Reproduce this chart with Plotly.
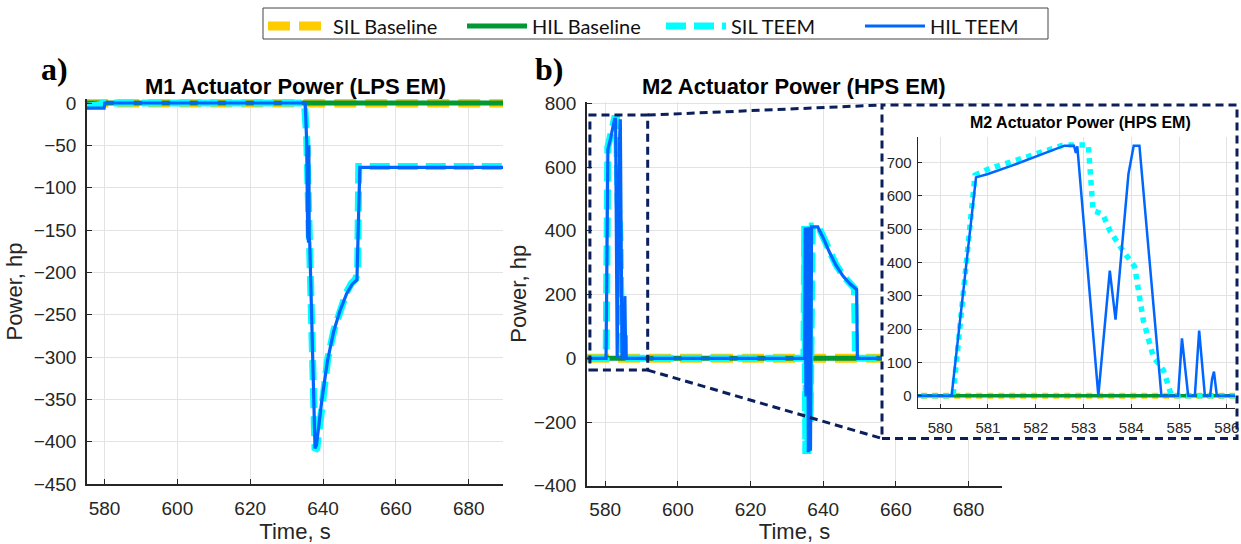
import plotly.graph_objects as go

W, H = 1241, 544

# ---------------- data ----------------
# Panel a) M1 Actuator Power (LPS EM)
t_a_sil_base = [575.0, 689.5]
p_a_sil_base = [0, 0]
t_a_hil_base = [575.0, 689.5]
p_a_hil_base = [0, 0]
t_a_sil_teem = [575.0, 576.5, 578.5, 579.5, 634.9, 635.5, 636.1, 636.4, 637.8, 638.3, 639.7,
                641.3, 643.0, 644.6, 646.4, 647.8, 648.9, 649.5, 649.8, 689.5]
p_a_sil_teem = [-4, -4, -2, 0, 0, -40, -160, -175, -410, -408, -352,
                -302, -268, -244, -224, -213, -208, -200, -75, -75]
t_a_hil_teem = [575.0, 579.9, 580.1, 635.1, 635.5, 635.8, 635.9, 636.0, 636.1, 636.2, 636.35,
                637.8, 638.2, 639.7, 641.2, 642.9, 644.6, 646.5, 648.0, 649.3, 650.1, 689.5]
p_a_hil_teem = [-6, -6, 0, 0, -45, -160, -60, -165, -50, -160, -165,
                -408, -404, -350, -305, -270, -246, -225, -214, -209, -76, -76]

# Panel b) M2 Actuator Power (HPS EM)
t_b_sil_base = [575.0, 689.5]
p_b_sil_base = [0, 0]
t_b_hil_base = [575.0, 689.5]
p_b_hil_base = [0, 0]
t_b_sil_teem = [575.0, 580.27, 580.73, 581.04, 581.5, 582.0, 582.58, 583.1, 583.2, 583.4,
                583.55, 583.8, 584.07, 584.25, 584.46, 584.67, 584.75, 584.84,
                634.7, 634.9, 635.2, 635.5, 635.8, 636.1, 636.4, 636.7, 637.0, 638.6,
                640.0, 641.8, 643.5, 645.5, 647.3, 648.6, 648.9, 689.5]
p_b_sil_teem = [0, 0, 662, 682, 702, 725, 752, 752, 555, 545,
                495, 440, 387, 227, 117, 77, 40, 0,
                0, 415, -300, 415, -300, 415, -200, 415, 415, 415,
                380, 333, 294, 259, 234, 220, 0, 0]
t_b_hil_teem = [575.0, 580.24, 580.75, 581.0, 581.5, 582.0, 582.3, 582.6, 582.8, 582.84, 582.87,
                583.31, 583.55, 583.67, 583.94, 583.97, 584.0, 584.05, 584.17, 584.63,
                584.98, 585.06, 585.19, 585.33, 585.42, 585.54, 585.65, 585.69, 585.73, 585.79,
                634.9, 635.05, 635.25, 635.4, 635.6, 635.75, 635.9, 636.05, 636.2, 636.35,
                636.5, 636.65, 636.8, 638.5, 640.0, 641.8, 643.5, 645.5, 647.5, 649.2, 649.4, 689.5]
p_b_hil_teem = [0, 0, 655, 665, 690, 718, 735, 750, 750, 728, 748,
                0, 375, 228, 665, 688, 700, 750, 750, 0,
                0, 172, 0, 0, 195, 0, 0, 50, 72, 0,
                0, 410, -120, 410, 0, 410, -295, 412, 20, 412,
                -290, 412, 412, 412, 378, 331, 292, 257, 232, 216, 0, 0]

x_ticks = [580, 600, 620, 640, 660, 680]
y_ticks_a = [0, -50, -100, -150, -200, -250, -300, -350, -400, -450]
y_ticks_b = [800, 600, 400, 200, 0, -200, -400]
x_ticks_inset = [580, 581, 582, 583, 584, 585, 586]
y_ticks_inset = [0, 100, 200, 300, 400, 500, 600, 700]

zoom_t = [575.8, 591.7]   # zoomed region shown in the inset
zoom_p = [-37, 763]

series_names = ['SIL Baseline', 'HIL Baseline', 'SIL TEEM', 'HIL TEEM']

# ---------------- layout geometry ----------------
def px(x):
    return x / W

def py(y):
    return 1 - y / H

XA_DOM = [px(87), px(503)];     YA_DOM = [py(484), py(99)]
XA_RNG = [575.2, 689.4];        YA_RNG = [-450, 4.72]
XB_DOM = [px(587), px(1002)];   YB_DOM = [py(485.8), py(101.7)]
XB_RNG = [575.0, 689.2];        YB_RNG = [-400, 805]
XC_DOM = [px(882), px(1238)];   YC_DOM = [py(438.5), py(105)]
XI_DOM = [px(917.7), px(1235)]; YI_DOM = [py(408), py(136.7)]
XI_RNG = [579.53, 586.17];      YI_RNG = [-37, 777]

C_SIL_BASE = '#FFCC00'
C_HIL_BASE = '#009933'
C_SIL_TEEM = '#00FFFF'
C_HIL_TEEM = '#0066FF'
NAVY = '#0A1F5C'
AX = '#262626'
GRID = '#E3E3E3'
FONT = 'Liberation Sans, Arial, sans-serif'

fig = go.Figure()

main_styles = [
    dict(color=C_SIL_BASE, width=9, dash='22px,9px'),
    dict(color=C_HIL_BASE, width=5),
    dict(color=C_SIL_TEEM, width=7, dash='20px,8px'),
    dict(color=C_HIL_TEEM, width=3.2),
]
inset_styles = [
    dict(color=C_SIL_BASE, width=6, dash='6px,5px'),
    dict(color=C_HIL_BASE, width=3.5),
    dict(color=C_SIL_TEEM, width=5.5, dash='dot'),
    dict(color=C_HIL_TEEM, width=2.5),
]

a_data = [(t_a_sil_base, p_a_sil_base), (t_a_hil_base, p_a_hil_base),
          (t_a_sil_teem, p_a_sil_teem), (t_a_hil_teem, p_a_hil_teem)]
b_data = [(t_b_sil_base, p_b_sil_base), (t_b_hil_base, p_b_hil_base),
          (t_b_sil_teem, p_b_sil_teem), (t_b_hil_teem, p_b_hil_teem)]

for name, (t, p), st in zip(series_names, a_data, main_styles):
    fig.add_trace(go.Scatter(x=t, y=p, mode='lines', name=name, line=st,
                             xaxis='x', yaxis='y', showlegend=True, hoverinfo='skip'))
for name, (t, p), st in zip(series_names, b_data, main_styles):
    fig.add_trace(go.Scatter(x=t, y=p, mode='lines', name=name, line=st,
                             xaxis='x2', yaxis='y2', showlegend=False, hoverinfo='skip'))
# cover subplot (white background for the inset frame)
fig.add_trace(go.Scatter(x=[None], y=[None], mode='lines', xaxis='x3', yaxis='y3',
                         showlegend=False, hoverinfo='skip'))
for name, (t, p), st in zip(series_names, b_data, inset_styles):
    fig.add_trace(go.Scatter(x=t, y=p, mode='lines', name=name, line=st,
                             xaxis='x4', yaxis='y4', showlegend=False, hoverinfo='skip'))

def axis_style(size=19, ticklen=5, lw=1.5):
    return dict(showline=True, linecolor=AX, linewidth=lw, ticks='inside', ticklen=ticklen,
                tickcolor=AX, tickwidth=1, showgrid=True, gridcolor=GRID, gridwidth=1,
                zeroline=False, tickfont=dict(family=FONT, size=size, color=AX),
                automargin=False, fixedrange=True)

title_font = dict(family=FONT, size=22, color=AX)

fig.update_layout(
    width=W, height=H, margin=dict(l=0, r=0, t=0, b=0),
    paper_bgcolor='white', plot_bgcolor='white',
    xaxis=dict(domain=XA_DOM, range=XA_RNG, anchor='y', tickvals=x_ticks,
               title=dict(text='Time, s', font=title_font, standoff=8),
               ticklabelstandoff=6, **axis_style()),
    yaxis=dict(domain=YA_DOM, range=YA_RNG, anchor='x', tickvals=y_ticks_a,
               title=dict(text='Power, hp', font=title_font, standoff=5),
               ticklabelstandoff=5, **axis_style()),
    xaxis2=dict(domain=XB_DOM, range=XB_RNG, anchor='y2', tickvals=x_ticks,
                title=dict(text='Time, s', font=title_font, standoff=8),
                ticklabelstandoff=6, **axis_style()),
    yaxis2=dict(domain=YB_DOM, range=YB_RNG, anchor='x2', tickvals=y_ticks_b,
                title=dict(text='Power, hp', font=title_font, standoff=1),
                ticklabelstandoff=5, **axis_style()),
    xaxis3=dict(domain=XC_DOM, range=[0, 1], anchor='y3', visible=False, fixedrange=True),
    yaxis3=dict(domain=YC_DOM, range=[0, 1], anchor='x3', visible=False, fixedrange=True),
    xaxis4=dict(domain=XI_DOM, range=XI_RNG, anchor='y4', tickvals=x_ticks_inset,
                ticklabelstandoff=6, **axis_style(size=15, ticklen=4, lw=1)),
    yaxis4=dict(domain=YI_DOM, range=YI_RNG, anchor='x4', tickvals=y_ticks_inset,
                ticklabelstandoff=2, **axis_style(size=15, ticklen=4, lw=1)),
    legend=dict(orientation='h', x=px(263), xanchor='left', y=py(6.5), yanchor='top',
                borderwidth=0, bgcolor='rgba(0,0,0,0)',
                font=dict(family='Lato, Liberation Sans, sans-serif', size=20, color='#111111'),
                itemwidth=60, entrywidth=124, entrywidthmode='pixels', tracegroupgap=0),
    showlegend=True,
)

# legend frame
fig.add_shape(type='rect', xref='paper', yref='paper', x0=px(263), x1=px(1048),
              y0=py(39), y1=py(8), line=dict(color='#444444', width=1), layer='above')

# titles and panel labels
ann = [
    dict(text='<b>M1 Actuator Power (LPS EM)</b>', x=px(295), y=py(86),
         font=dict(family=FONT, size=22, color='#000000')),
    dict(text='<b>M2 Actuator Power (HPS EM)</b>', x=px(794), y=py(86),
         font=dict(family=FONT, size=22, color='#000000')),
    dict(text='<b>M2 Actuator Power (HPS EM)</b>', x=px(1080), y=py(123),
         font=dict(family=FONT, size=16, color='#000000')),
    dict(text='<b>a)</b>', x=px(54), y=py(69),
         font=dict(family='Liberation Serif, Times New Roman, serif', size=32, color='#000000')),
    dict(text='<b>b)</b>', x=px(549), y=py(69),
         font=dict(family='Liberation Serif, Times New Roman, serif', size=32, color='#000000')),
]
for a in ann:
    fig.add_annotation(xref='paper', yref='paper', showarrow=False,
                       xanchor='center', yanchor='middle', **a)

# zoom indicator: rectangle in panel b, inset frame, connectors
def bx(t):
    return XB_DOM[0] + (t - XB_RNG[0]) / (XB_RNG[1] - XB_RNG[0]) * (XB_DOM[1] - XB_DOM[0])

def by(p):
    return YB_DOM[0] + (p - YB_RNG[0]) / (YB_RNG[1] - YB_RNG[0]) * (YB_DOM[1] - YB_DOM[0])

nav_line = dict(color=NAVY, width=3, dash='8px,5px')
fig.add_shape(type='rect', xref='x2', yref='y2', x0=zoom_t[0], x1=zoom_t[1],
              y0=zoom_p[0], y1=zoom_p[1], line=nav_line, layer='above')
fig.add_shape(type='rect', xref='paper', yref='paper', x0=XC_DOM[0], x1=px(1237),
              y0=YC_DOM[0], y1=YC_DOM[1], line=nav_line, layer='above')
fig.add_shape(type='line', xref='paper', yref='paper', x0=bx(zoom_t[1]), y0=by(zoom_p[1]),
              x1=XC_DOM[0], y1=YC_DOM[1], line=nav_line, layer='above')
fig.add_shape(type='line', xref='paper', yref='paper', x0=bx(zoom_t[1]), y0=by(zoom_p[0]),
              x1=XC_DOM[0], y1=YC_DOM[0], line=nav_line, layer='above')

fig.write_html('out.html')
